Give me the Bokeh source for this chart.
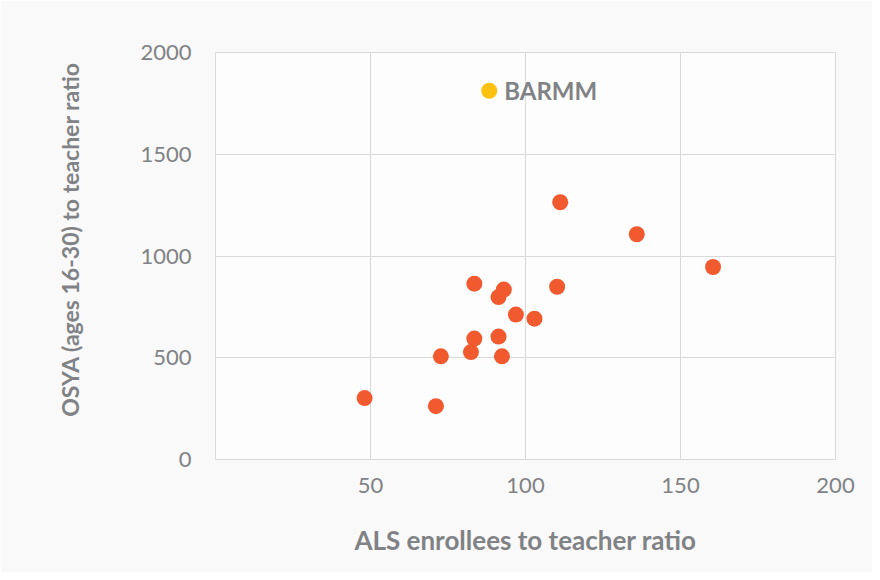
from bokeh.plotting import figure
from bokeh.models import Range1d, FixedTicker, ColumnDataSource
from bokeh.core.properties import value
from bokeh.embed import file_html
from bokeh.resources import INLINE

# Data: ALS enrollees-to-teacher ratio (x), OSYA (16-30)-to-teacher ratio (y)
als_ratio = [135.9, 160.5, 83.5, 93.0, 91.3, 110.2, 96.9, 102.9, 83.5, 91.3,
             82.4, 72.7, 92.4, 48.1, 71.1, 111.2]
osya_ratio = [1107, 946, 864, 835, 798, 849, 712, 692, 594, 604,
              528, 507, 507, 302, 262, 1264]

barmm_x = [88.3]
barmm_y = [1812]
barmm_label = ["BARMM"]

x_ticks = [50, 100, 150, 200]
y_ticks = [0, 500, 1000, 1500, 2000]

FONT = "Lato"
GRAY = "#808285"
GRID = "#d9d9d9"

p = figure(width=872, height=572, output_backend="svg", toolbar_location=None,
           x_range=Range1d(0, 200), y_range=Range1d(0, 2000),
           min_border_left=215, min_border_right=37, min_border_top=52,
           min_border_bottom=113)

p.border_fill_color = "#f9f9f9"
p.background_fill_color = "#fdfdfd"
p.outline_line_color = GRID
p.outline_line_width = 1

p.xaxis.ticker = FixedTicker(ticks=x_ticks)
p.yaxis.ticker = FixedTicker(ticks=y_ticks)
p.xgrid.ticker = FixedTicker(ticks=x_ticks)
p.ygrid.ticker = FixedTicker(ticks=y_ticks)
p.xgrid.grid_line_color = GRID
p.ygrid.grid_line_color = GRID

for ax in (p.xaxis, p.yaxis):
    ax.axis_line_color = None
    ax.major_tick_line_color = None
    ax.minor_tick_line_color = None
    ax.major_label_text_font = FONT
    ax.major_label_text_font_size = "22px"
    ax.major_label_text_color = GRAY
    ax.axis_label_text_font = FONT
    ax.axis_label_text_font_style = "bold"
    ax.axis_label_text_color = GRAY

p.xaxis.axis_label_text_font_size = "26px"
p.xaxis.axis_label = "ALS enrollees to teacher ratio"
p.xaxis.major_label_standoff = 12
p.xaxis.axis_label_standoff = 28

# leading non-breaking spaces nudge the title a little above the frame centre
p.yaxis.axis_label = "\u00a0" * 6 + "OSYA (ages 16-30) to teacher ratio"
p.yaxis.axis_label_text_font_size = "23px"
p.yaxis.major_label_standoff = 18
p.yaxis.axis_label_standoff = 53

src = ColumnDataSource(dict(x=als_ratio, y=osya_ratio))
p.scatter("x", "y", source=src, size=16, fill_color="#f15a2f", line_color=None)

bsrc = ColumnDataSource(dict(x=barmm_x, y=barmm_y, t=barmm_label))
p.scatter("x", "y", source=bsrc, size=16, fill_color="#fdc20f", line_color=None)
p.text("x", "y", text="t", source=bsrc, x_offset=15, text_baseline="middle",
       text_font=value(FONT), text_font_size="24px", text_font_style="bold",
       text_color=GRAY)

open("out.html", "w").write(file_html(p, INLINE))
